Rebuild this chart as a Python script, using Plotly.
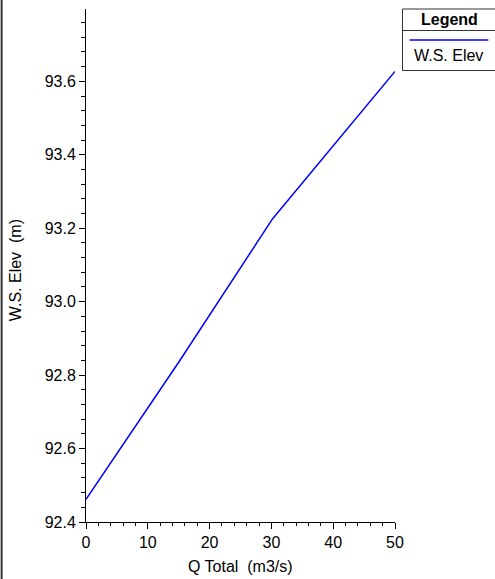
import plotly.graph_objects as go

# Data
q_total = [0.0, 15.0, 30.2, 50.0]
ws_elev = [92.462, 92.835, 93.226, 93.627]
series_name = "W.S. Elev"
x_title = "Q Total\u00a0\u00a0(m3/s)"
y_title = "W.S. Elev\u00a0\u00a0(m)"
legend_title = "Legend"
x_ticks = [0, 10, 20, 30, 40, 50]
y_ticks = [92.4, 92.6, 92.8, 93.0, 93.2, 93.4, 93.6]

W, H = 495, 579
L, R, T, B = 86, 99.5, 9, 57.3
FONT = "Liberation Sans, Arial, sans-serif"
FS = 16

pw = W - L - R
ph = H - T - B


def px_x(p):
    return (p - L) / pw


def px_y(p):
    return (H - B - p) / ph


fig = go.Figure()
fig.add_trace(go.Scatter(x=q_total, y=ws_elev, mode="lines", name=series_name,
                         line=dict(color="#0000FF", width=1.5), showlegend=False))

fig.update_layout(
    width=W, height=H,
    margin=dict(l=L, r=R, t=T, b=B),
    paper_bgcolor="white", plot_bgcolor="white",
    font=dict(family=FONT, size=FS, color="black"),
    xaxis=dict(range=[0, 50], tickvals=x_ticks, showgrid=False, zeroline=False,
               showline=True, linecolor="black", linewidth=1,
               ticks="outside", ticklen=6, tickcolor="black",
               minor=dict(dtick=2, tick0=0, ticks="outside", ticklen=3, tickcolor="black"),
               tickfont=dict(size=FS)),
    yaxis=dict(range=[92.4, 93.797], tickvals=y_ticks, tickformat=".1f",
               showgrid=False, zeroline=False,
               showline=True, linecolor="black", linewidth=1,
               ticks="outside", ticklen=6, tickcolor="black",
               minor=dict(dtick=0.04, tick0=92.4, ticks="outside", ticklen=4, tickcolor="black"),
               tickfont=dict(size=FS)),
    showlegend=False,
)

# Axis titles
fig.add_annotation(text=x_title, xref="paper", yref="paper", x=px_x(241), y=px_y(566),
                   showarrow=False, font=dict(size=FS), xanchor="center", yanchor="middle")
fig.add_annotation(text=y_title, xref="paper", yref="paper", x=px_x(15), y=px_y(270),
                   showarrow=False, font=dict(size=FS), textangle=-90,
                   xanchor="center", yanchor="middle")

# Left frame line
fig.add_shape(type="line", xref="paper", yref="paper", x0=px_x(1.5), x1=px_x(1.5),
              y0=px_y(-2), y1=px_y(H + 2), line=dict(color="#333333", width=2))

# Legend box
fig.add_shape(type="rect", xref="paper", yref="paper", x0=px_x(403), x1=px_x(505),
              y0=px_y(70.5), y1=px_y(9), line=dict(color="#333333", width=1),
              fillcolor="white", layer="above")
fig.add_shape(type="line", xref="paper", yref="paper", x0=px_x(403), x1=px_x(505),
              y0=px_y(30.5), y1=px_y(30.5), line=dict(color="#333333", width=1))
fig.add_shape(type="line", xref="paper", yref="paper", x0=px_x(410), x1=px_x(489),
              y0=px_y(40), y1=px_y(40), line=dict(color="#0000FF", width=1.5))
fig.add_annotation(text="<b>" + legend_title + "</b>", xref="paper", yref="paper",
                   x=px_x(450), y=px_y(19), showarrow=False, font=dict(size=FS),
                   xanchor="center", yanchor="middle")
fig.add_annotation(text=series_name, xref="paper", yref="paper",
                   x=px_x(449), y=px_y(55), showarrow=False, font=dict(size=FS),
                   xanchor="center", yanchor="middle")

fig.write_html("out.html", config={"displayModeBar": False},
               post_script="document.body.style.margin='0';document.body.style.overflow='hidden';")
